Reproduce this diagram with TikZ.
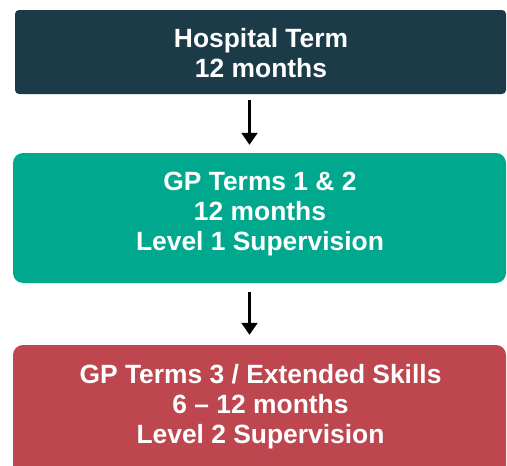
\documentclass[tikz,border=0pt]{standalone}
\usepackage{fontspec}
\setmainfont{Liberation Sans}
\usetikzlibrary{arrows.meta}
\definecolor{cdark}{RGB}{27,59,72}
\definecolor{cteal}{RGB}{0,168,142}
\definecolor{cred}{RGB}{189,70,79}
\tikzset{
  stagebox/.style={draw=none, inner sep=0pt, rectangle},
  stagetext/.style={text=white, align=center, inner sep=0pt,
    font=\bfseries\fontsize{26.4pt}{30pt}\selectfont},
  flowarrow/.style={line width=2.2pt, -{Triangle[length=12pt,width=16pt]}}
}
\begin{document}
\begin{tikzpicture}[x=1pt,y=-1pt]
\useasboundingbox (0,0) rectangle (507,466);
\clip (0,0) rectangle (507,466);
\node[stagebox, fill=cdark, rounded corners=4pt, minimum width=491pt, minimum height=84pt] (b1) at (260.5,52) {};
\node[stagebox, fill=cteal, rounded corners=10pt, minimum width=493pt, minimum height=130pt] (b2) at (259.5,218) {};
\node[stagebox, fill=cred, rounded corners=10pt, minimum width=493pt, minimum height=135pt] (b3) at (259.5,412.5) {};
\node[stagetext] (t1) at (261,53.2) {Hospital Term\\12 months};
\node[stagetext] (t2) at (260,214.3) {GP Terms 1 \& 2\\12 months\\Level 1 Supervision};
\node[stagetext] (t3) at (260.5,406.3) {GP Terms 3 / Extended Skills\\6 -- 12 months\\Level 2 Supervision};
\draw[flowarrow, shorten <=6pt, shorten >=8pt] ([xshift=-11pt]b1.south) -- ([xshift=-11pt]b1.south |- b2.north);
\draw[flowarrow, shorten <=9pt, shorten >=10pt] ([xshift=-10pt]b2.south) -- ([xshift=-10pt]b2.south |- b3.north);
\end{tikzpicture}
\end{document}
